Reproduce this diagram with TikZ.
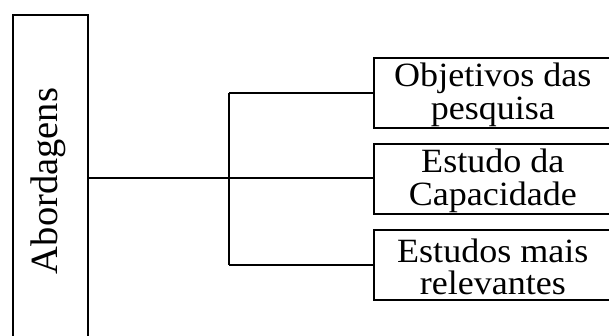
\documentclass[tikz,border=0pt]{standalone}
\usepackage{fontspec}
\setmainfont{Liberation Serif}
\newfontfamily\itemfont[FakeStretch=1.06]{Liberation Serif}
\begin{document}
\begin{tikzpicture}[x=1pt,y=-1pt,
  framebox/.style={draw=black, line width=1.6pt, inner sep=0pt},
  itembox/.style={framebox, minimum width=238pt, minimum height=70pt},
  itemtext/.style={align=center, inner sep=0pt, font=\itemfont\fontsize{34}{32.5}\selectfont},
  trunk/.style={draw=black, line width=2.2pt},
  branch/.style={draw=black, line width=1.4pt}]
  \useasboundingbox (0,0) rectangle (609,335);

  % tall box on the left with the vertical title
  \node[framebox, minimum width=75pt, minimum height=331pt, anchor=north west]
    (abord) at (12,14) {};
  \node[font=\fontsize{38.5}{40}\selectfont, rotate=90] (title) at (48.5,181) {Abordagens};

  % the three item boxes
  \node[itembox, anchor=north west] (obj) at (373,57)  {};
  \node[itembox, anchor=north west] (cap) at (373,143) {};
  \node[itembox, anchor=north west] (rel) at (373,229) {};
  \node[itemtext] (objt) at ([yshift=-2pt]obj.center) {Objetivos das\\pesquisa};
  \node[itemtext] (capt) at ([yshift=-2pt]cap.center) {Estudo da\\Capacidade};
  \node[itemtext] (relt) at ([yshift=-2pt]rel.center) {Estudos mais\\relevantes};

  % tree connectors
  \coordinate (fork) at (229,178);
  \draw[trunk] (abord.east |- fork) -- (fork);
  \draw[branch] (fork |- obj.west) -- (fork |- rel.west);
  \draw[branch] (fork |- obj.west) -- (obj.west);
  \draw[branch] (fork) -- (cap.west |- fork);
  \draw[branch] (fork |- rel.west) -- (rel.west);
\end{tikzpicture}
\end{document}
